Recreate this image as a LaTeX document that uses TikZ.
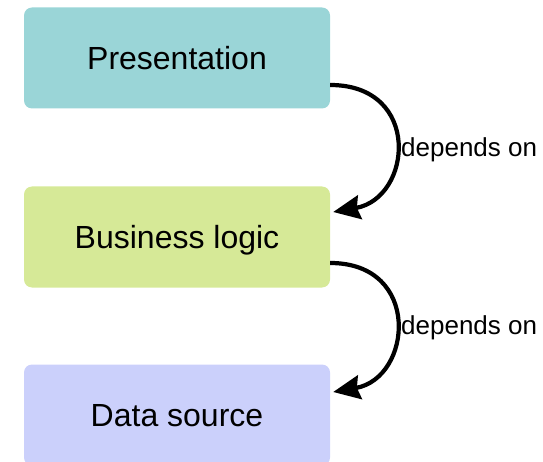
\documentclass[tikz,border=0pt]{standalone}
\usepackage{fontspec}
\setmainfont{Liberation Sans}
\usetikzlibrary{arrows.meta}
\definecolor{layerA}{HTML}{9AD5D7}
\definecolor{layerB}{HTML}{D6E997}
\definecolor{layerC}{HTML}{CBD0FB}
\tikzset{
  layer/.style={rounded corners=8pt, minimum width=306pt, minimum height=101pt,
    inner sep=0pt, text height=22.5pt, text depth=0pt,
    font=\fontsize{32}{36}\selectfont},
  dep/.style={line width=4.2pt, -{Stealth[length=27pt,width=24pt,inset=3pt]}},
  deplabel/.style={anchor=west, inner sep=1pt, font=\fontsize{26}{30}\selectfont}
}
\begin{document}
\begin{tikzpicture}[x=1pt,y=-1pt]
  \useasboundingbox (0,0) rectangle (543,462);
  \begin{scope}
    \clip (0,0) rectangle (543,462);
    \node[layer, fill=layerA] (pres) at (177,58) {Presentation};
    \node[layer, fill=layerB] (biz) at (177,237) {Business logic};
    \node[layer, fill=layerC] (data) at (177,415) {Data source};
  \end{scope}
  \coordinate (pout) at ([yshift=-27pt]pres.east);
  \coordinate (bin) at ([xshift=3pt,yshift=25pt]biz.east);
  \coordinate (bout) at ([yshift=-26pt]biz.east);
  \coordinate (din) at ([xshift=3pt,yshift=23pt]data.east);
  \draw[dep] (pout) .. controls ++(92,0) and ++(79,-14) .. (bin);
  \draw[dep] (bout) .. controls ++(92,0) and ++(79,-14) .. (din);
  \node[deplabel] (l1) at (400,150) {depends on};
  \node[deplabel] (l2) at (400,328) {depends on};
\end{tikzpicture}
\end{document}
